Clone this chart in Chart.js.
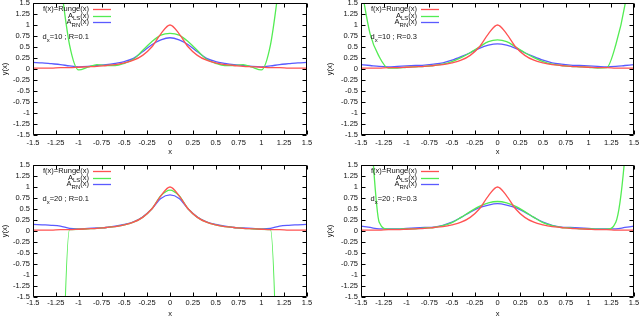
<!DOCTYPE html>
<html>
<head>
<meta charset="utf-8">
<script src="https://cdn.jsdelivr.net/npm/chart.js@4.4.0/dist/chart.umd.min.js"></script>
<style>
  body { margin: 0; background: #fff; }
  #wrap { position: relative; width: 640px; height: 316px; overflow: hidden; }
  canvas { position: absolute; }
</style>
</head>
<body>
<div id="wrap">
  <canvas id="c1" width="320" height="158" style="left:0;top:0"></canvas>
  <canvas id="c2" width="320" height="158" style="left:320px;top:0"></canvas>
  <canvas id="c3" width="320" height="160" style="left:0;top:158px"></canvas>
  <canvas id="c4" width="320" height="160" style="left:320px;top:158px"></canvas>
</div>
<script>
// sample positions shared by every curve
const xs = [-1.5,-1.4,-1.3,-1.2,-1.1,-1.0,-0.9,-0.8,-0.7,-0.6,-0.5,-0.4,-0.3,-0.2,-0.1,0,
            0.1,0.2,0.3,0.4,0.5,0.6,0.7,0.8,0.9,1.0,1.1,1.2,1.3,1.4,1.5];

const xTickLabels = ['-1.5','-1.25','-1','-0.75','-0.5','-0.25','0','0.25','0.5','0.75','1','1.25','1.5'];
const yTickLabels = ['-1.5','-1.25','-1','-0.75','-0.5','-0.25','0','0.25','0.5','0.75','1','1.25','1.5'];

// f(x) = Runge(x), same in all four panels
const runge = [0.02,0.02,0.02,0.03,0.03,0.04,0.05,0.06,0.08,0.1,0.14,0.2,0.31,0.5,0.8,1,
               0.8,0.5,0.31,0.2,0.14,0.1,0.08,0.06,0.05,0.04,0.03,0.03,0.02,0.02,0.02];

// dx=10 ; R=0.1
const ls10r01 = [12,6.5,3.5,2.0,0.55,-0.02,0.04,0.1,0.08,0.08,0.13,0.22,0.42,0.62,0.77,0.81,
                 0.77,0.62,0.42,0.22,0.13,0.08,0.08,0.1,0.04,-0.02,0.55,2.0,3.5,6.5,12];
const rn10r01 = [0.15,0.14,0.12,0.1,0.07,0.05,0.06,0.08,0.1,0.13,0.17,0.24,0.39,0.55,0.66,0.71,
                 0.66,0.55,0.39,0.24,0.17,0.13,0.1,0.08,0.06,0.05,0.07,0.1,0.12,0.14,0.15];

// dx=10 ; R=0.3
const ls10r03 = [1.9,0.8,0.28,0.02,0.02,0.04,0.05,0.06,0.08,0.11,0.17,0.26,0.37,0.5,0.62,0.66,
                 0.62,0.5,0.37,0.26,0.17,0.11,0.08,0.06,0.05,0.04,0.02,0.03,0.55,1.45,3.0];
const rn10r03 = [0.1,0.08,0.06,0.05,0.06,0.07,0.08,0.09,0.11,0.14,0.2,0.28,0.37,0.47,0.54,0.57,
                 0.54,0.47,0.37,0.28,0.2,0.14,0.11,0.09,0.08,0.07,0.06,0.05,0.06,0.08,0.1];

// dx=20 ; R=0.1
const ls20r01 = [-90,-45,-20,-6,0.03,0.04,0.05,0.06,0.08,0.1,0.14,0.2,0.31,0.5,0.8,0.93,
                 0.8,0.5,0.31,0.2,0.14,0.1,0.08,0.06,0.05,0.04,0.03,-6,-20,-45,-90];
const rn20r01 = [0.15,0.14,0.13,0.11,0.06,0.05,0.06,0.07,0.08,0.11,0.15,0.21,0.32,0.5,0.74,0.82,
                 0.74,0.5,0.32,0.21,0.15,0.11,0.08,0.07,0.06,0.05,0.06,0.11,0.13,0.14,0.15];

// dx=20 ; R=0.3
const ls20r03 = [6,2.6,0.2,0.04,0.04,0.05,0.05,0.07,0.08,0.12,0.19,0.31,0.44,0.56,0.64,0.67,
                 0.64,0.56,0.44,0.31,0.19,0.12,0.08,0.07,0.05,0.05,0.04,0.04,0.2,1.7,5];
const rn20r03 = [0.11,0.08,0.05,0.05,0.05,0.06,0.07,0.08,0.09,0.13,0.2,0.31,0.43,0.53,0.59,0.62,
                 0.59,0.53,0.43,0.31,0.2,0.13,0.09,0.08,0.07,0.06,0.05,0.05,0.05,0.08,0.11];

const dxValues = ['10', '10', '20', '20'];
const rValues = ['0.1', '0.3', '0.1', '0.3'];

const seriesColors = ['#ff5252', '#52ec52', '#5a5aff'];
const seriesNames = [
    [{ t: 'f(x)=Runge(x)' }],
    [{ t: 'A' }, { t: 'LS', sub: true }, { t: '(x)' }],
    [{ t: 'A' }, { t: 'RN', sub: true }, { t: '(x)' }]
];

const FONT = '"Liberation Sans", Arial, sans-serif';
const FS = 7.5;

function drawRich(ctx, parts, x, y, align) {
    const main = `${FS}px ${FONT}`;
    const small = `${FS * 0.8}px ${FONT}`;
    let w = 0;
    parts.forEach(p => { ctx.font = p.sub ? small : main; w += ctx.measureText(p.t).width; });
    let cx = align === 'right' ? x - w : x;
    parts.forEach(p => {
        ctx.font = p.sub ? small : main;
        ctx.fillText(p.t, cx, p.sub ? y + 3 : y);
        cx += ctx.measureText(p.t).width;
    });
}

// gnuplot style box, inward mirrored ticks, key and the dx/R note
const gnuplotFrame = {
    id: 'gnuplotFrame',
    afterDraw(chart, args, opts) {
        const { ctx, chartArea: a, scales: { x, y } } = chart;
        const L = Math.round(a.left) + 0.5, R = Math.round(a.right) - 0.5;
        const T = Math.round(a.top) + 0.5, B = Math.round(a.bottom) - 0.5;
        ctx.save();
        ctx.strokeStyle = '#000';
        ctx.lineWidth = 1;
        ctx.beginPath();
        ctx.rect(L, T, R - L, B - T);
        x.ticks.forEach(t => {
            const px = Math.round(x.getPixelForValue(t.value)) + 0.5;
            ctx.moveTo(px, B); ctx.lineTo(px, B - 4);
            ctx.moveTo(px, T); ctx.lineTo(px, T + 4);
        });
        y.ticks.forEach(t => {
            const py = Math.round(y.getPixelForValue(t.value)) + 0.5;
            ctx.moveTo(L, py); ctx.lineTo(L + 4, py);
            ctx.moveTo(R, py); ctx.lineTo(R - 4, py);
        });
        ctx.stroke();

        ctx.fillStyle = '#111';
        ctx.textBaseline = 'middle';
        ctx.lineWidth = 1.3;
        const rows = [6, 12.7, 19.3];
        seriesNames.forEach((parts, i) => {
            const ry = a.top + rows[i];
            drawRich(ctx, parts, a.left + 56, ry, 'right');
            ctx.strokeStyle = seriesColors[i];
            ctx.beginPath();
            ctx.moveTo(a.left + 60, Math.round(ry) + 0.5);
            ctx.lineTo(a.left + 78, Math.round(ry) + 0.5);
            ctx.stroke();
        });
        drawRich(ctx, [{ t: 'd' }, { t: 'x', sub: true }, { t: `=${opts.dx} ; R=${opts.r}` }],
            a.left + 9.5, a.top + 34, 'left');
        ctx.restore();
    }
};

function makePanel(id, idx, ls, rn, lay) {
    const series = [runge, ls, rn];
    new Chart(document.getElementById(id), {
        type: 'line',
        data: {
            datasets: series.map((ys, i) => ({
                data: xs.map((xv, k) => ({ x: xv, y: ys[k] })),
                borderColor: seriesColors[i],
                borderWidth: 1.3,
                pointRadius: 0,
                cubicInterpolationMode: 'monotone',
                fill: false
            }))
        },
        options: {
            responsive: false,
            animation: false,
            devicePixelRatio: 1,
            layout: { padding: { top: lay.padTop, right: lay.padRight, left: 0, bottom: 0 } },
            plugins: {
                legend: { display: false },
                tooltip: { enabled: false },
                gnuplotFrame: { dx: dxValues[idx], r: rValues[idx] }
            },
            scales: {
                x: {
                    type: 'linear', min: -1.5, max: 1.5,
                    grid: { display: false, drawTicks: false },
                    border: { display: false },
                    ticks: {
                        stepSize: 0.25, autoSkip: false, maxRotation: 0, padding: lay.xLabelPad,
                        color: '#111', font: { family: FONT, size: FS },
                        callback: (v, i) => xTickLabels[i]
                    },
                    title: { display: true, text: 'x', color: '#111', font: { family: FONT, size: FS },
                             padding: { top: 0, bottom: lay.xTitlePad } },
                    afterFit: s => { s.height = lay.xAxisH; s.paddingLeft = 0; s.paddingRight = 0; }
                },
                y: {
                    type: 'linear', min: -1.5, max: 1.5,
                    grid: { display: false, drawTicks: false },
                    border: { display: false },
                    ticks: {
                        stepSize: 0.25, autoSkip: false, padding: 3,
                        color: '#111', font: { family: FONT, size: FS },
                        callback: (v, i) => yTickLabels[i]
                    },
                    title: { display: true, text: 'y(x)', color: '#111', font: { family: FONT, size: FS },
                             padding: { top: lay.yTitlePad, bottom: 0 } },
                    afterFit: s => { s.width = lay.yAxisW; s.paddingTop = 0; s.paddingBottom = 0; }
                }
            }
        },
        plugins: [gnuplotFrame]
    });
}

makePanel('c1', 0, ls10r01, rn10r01, { padTop: 3, padRight: 13, yAxisW: 33, yTitlePad: 0, xAxisH: 23, xLabelPad: 3, xTitlePad: 1.5 });
makePanel('c2', 1, ls10r03, rn10r03, { padTop: 3, padRight: 6, yAxisW: 41, yTitlePad: 5, xAxisH: 23, xLabelPad: 3, xTitlePad: 1.5 });
makePanel('c3', 2, ls20r01, rn20r01, { padTop: 7, padRight: 13, yAxisW: 33, yTitlePad: 0, xAxisH: 21, xLabelPad: 1, xTitlePad: 0 });
makePanel('c4', 3, ls20r03, rn20r03, { padTop: 7, padRight: 6, yAxisW: 41, yTitlePad: 5, xAxisH: 21, xLabelPad: 1, xTitlePad: 0 });
</script>
</body>
</html>
